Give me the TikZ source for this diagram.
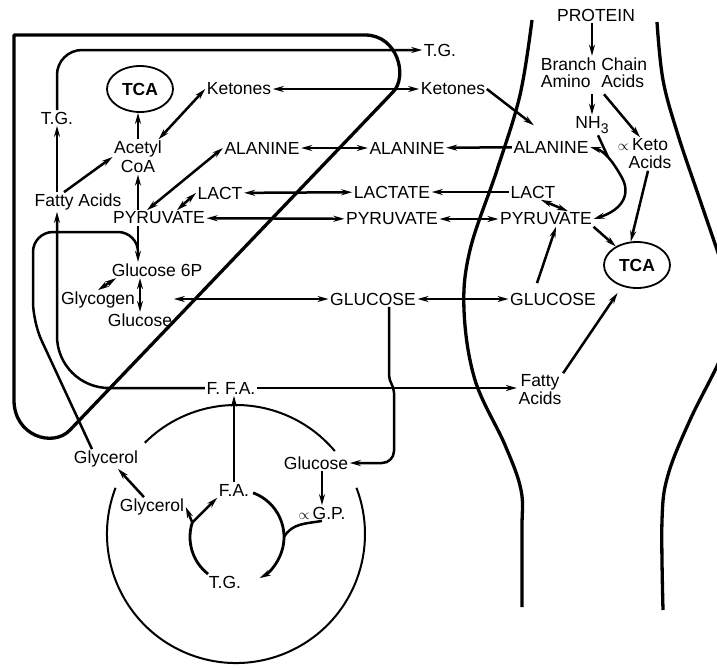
\documentclass[tikz,border=0pt]{standalone}
\usepackage{fontspec}
\setmainfont{Liberation Sans}
\usetikzlibrary{arrows.meta,shapes.geometric,calc}

\begin{document}
\begin{tikzpicture}[
    x=1pt, y=-1pt,
    % Style definitions
    metab/.style={font=\fontsize{17.5}{18}\selectfont, inner sep=1.5pt, align=center},
    tcabox/.style={ellipse, draw, line width=1.8pt, minimum width=66pt, minimum height=46pt, inner sep=0pt, font=\fontsize{17.5}{18}\selectfont\bfseries},
    organ/.style={line width=3.3pt, line join=round},
    flow/.style={-{Stealth[length=11pt,width=6pt]}, line width=2.5pt},
    dflow/.style={{Stealth[length=11pt,width=6pt]}-{Stealth[length=11pt,width=6pt]}, line width=2.5pt},
    link/.style={line width=2.5pt},
    fatcell/.style={line width=2pt}
]
\useasboundingbox (0,0) rectangle (717,667);
\clip (0,0) rectangle (717,667);

% Organ outlines
\draw[organ] (14,400) -- (14,35) -- (365,35) .. controls (398,35) and (408,77) .. (393,92)
    -- (70,430) .. controls (53,448) and (14,436) .. cycle;
\draw[organ] plot[smooth, tension=0.6] coordinates {(532,20) (520,95) (497,170) (470,250) (464,310) (475,380) (505,445) (521,490) (522,530) (522,607)};
\draw[organ] plot[smooth, tension=0.6] coordinates {(657,22) (663,80) (678,135) (700,200) (722,265) (735,310) (722,355) (690,420) (668,475) (662,520) (663,610)};

% Liver
\node[tcabox] (tcaL) at (140,89) {TCA};
\node[metab] (ketL) at (239,89) {Ketones};
\node[metab] (tgL) at (57,118) {T.G.};
\node[metab] (acoa) at (138,157) {Acetyl\\[1pt]CoA};
\node[metab] (faL) at (78,202) {Fatty Acids};
\node[metab] (alaL) at (262,148) {ALANINE};
\node[metab] (lactL) at (220,193) {LACT};
\node[metab] (pyrL) at (159,218) {PYRUVATE};
\node[metab] (g6p) at (157,270) {Glucose 6P};
\node[metab] (glyc) at (98,300) {Glycogen};
\node[metab] (gluL) at (140,320) {Glucose};
\node[metab] (tgR) at (440,50) {T.G.};

% Blood
\node[metab] (ketB) at (453,89) {Ketones};
\node[metab] (alaB) at (407,148) {ALANINE};
\node[metab] (lactB) at (392,192) {LACTATE};
\node[metab] (pyrB) at (392,219) {PYRUVATE};
\node[metab] (gluB) at (373,299) {GLUCOSE};
\node[metab] (ffa) at (231,388) {F. F.A.};

% Muscle
\node[metab] (prot) at (596,15) {PROTEIN};
\node[metab] (bcaa) at (594,75) {{\def\arraystretch{0.9}\begin{tabular}{@{}l@{\ }l@{}}Branch&Chain\\Amino&Acids\end{tabular}}};
\node[metab] (nh3) at (592,125) {NH\raisebox{-5pt}{\fontsize{14}{14}\selectfont 3}};
\node[metab] (keto) at (650,154) {\llap{{\fontsize{15}{15}\selectfont$\propto$}\,}Keto\\Acids};
\node[metab] (alaM) at (551,147) {ALANINE};
\node[metab] (lactM) at (533,192) {LACT};
\node[metab] (pyrM) at (546,219) {PYRUVATE};
\node[metab] (gluM) at (553,299) {GLUCOSE};
\node[tcabox] (tcaM) at (637,265) {TCA};
\node[metab] (faM) at (540,390) {Fatty\\Acids};

% Adipose tissue
\node[metab] (glyO) at (106,459) {Glycerol};
\node[metab] (gluA) at (316,463) {Glucose};
\node[metab] (faA) at (234,490) {F.A.};
\node[metab] (glyI) at (152,507) {Glycerol};
\node[metab] (agp) at (322,513) {{\fontsize{15}{15}\selectfont$\propto$}\,G.P.};
\node[metab] (tgA) at (225,582) {T.G.};
\coordinate (fat) at (236,534);
\coordinate (ring) at (237,537);
\coordinate (yj) at ([shift={(162:47pt)}]ring);
\coordinate (tj) at (608,157);

% Liver connections
\draw[flow] (acoa.north) -- (acoa.north |- tcaL.south);
\draw[dflow] ([xshift=-5]acoa.north east) -- (ketL.west);
\draw[flow] ([xshift=-14]faL.north) -- (acoa.west);
\draw[flow] (pyrL.north -| acoa) -- (acoa.south);
\draw[dflow] ([xshift=-12]pyrL.north) -- (alaL.west);
\draw[dflow] ([xshift=18]pyrL.north) -- (lactL.west);
\draw[flow] ([xshift=-21]pyrL.south) -- ([xshift=-21]pyrL.south |- g6p.north);
\draw[dflow] (glyc.north) -- ([xshift=6]g6p.south west);
\draw[dflow] (g6p.south -| gluL) -- (gluL.north);
\draw[flow] (faL.north -| tgL) -- (tgL.south);
\draw[flow, rounded corners=25pt] (tgL.north) |- (tgR.west);
\draw[flow, rounded corners=52pt] (ffa.west) -| (faL.south -| tgL);
\draw[link, rounded corners=20pt] ([xshift=-14]glyO.north) -- (33,322) -- (33,232) -- (138,232) -- (138,252);

% Exchange through the blood
\draw[dflow] (ketL) -- (ketB);
\draw[dflow] (alaL) -- (alaB);
\draw[dflow] (lactL) -- (lactB);
\draw[dflow] (pyrL) -- (pyrB);
\draw[dflow] (gluL.north east |- gluB) -- (gluB);
\draw[flow] (alaM) -- (alaB);
\draw[flow] (lactM) -- (lactB);
\draw[dflow] (pyrB) -- (pyrM);
\draw[dflow] (gluB) -- (gluM);
\draw[flow] (ffa.east) -- (faM.west |- ffa.east);
\draw[flow] ([xshift=16]gluB.south) -- ++(0,68) to[out=-90,in=90] ++(5,18) [rounded corners=12pt] |- (gluA.east);

% Muscle connections
\draw[flow] (ketB.east) -- ([xshift=22,yshift=14]alaM.north west);
\draw[flow] (prot.south -| nh3) -- (bcaa.north -| nh3);
\draw[flow] (bcaa.south -| nh3) -- (nh3.north);
\draw[flow] ([xshift=10]bcaa.south) -- ([xshift=-10]keto.north);
\draw[link] ([xshift=6]nh3.south) -- (tj);
\draw[dflow] (alaM.east) .. controls (604,151) and (612,160) .. (621,176) .. controls (632,194) and (622,210) .. (pyrM.east);
\draw[dflow] ([xshift=8]lactM.south) -- ([xshift=22]pyrM.north);
\draw[flow] ([xshift=-16,yshift=8]gluM.north) -- ([xshift=10]pyrM.south);
\draw[flow] (pyrM.south east) -- (tcaM);
\draw[flow] ([xshift=-2]keto.south) -- (tcaM.105);
\draw[flow, shorten >=8pt] (faM.north east) -- (tcaM.235);

% Adipose connections
\draw[fatcell] ([shift={(40:129pt)}]fat) arc[start angle=40, end angle=135, radius=129pt];
\draw[fatcell] ([shift={(159:129pt)}]fat) arc[start angle=159, end angle=381, radius=129pt];
\draw[flow, line width=2.8pt] ([shift={(70:47pt)}]ring) arc[start angle=70, end angle=-61, radius=47pt];
\draw[link, line width=2.8pt] ([shift={(232:47pt)}]ring) arc[start angle=232, end angle=162, radius=47pt];
\draw[flow] (yj) -- (faA.south west);
\draw[flow] (yj) -- (glyI.east);
\draw[flow] ([xshift=-8]glyI.north) -- ([xshift=12]glyO.south);
\draw[flow] (faA.north) -- (faA.north |- ffa.south);
\draw[flow] (agp.north |- gluA.south) -- (agp.north);
\draw[link] (agp.south) to[out=190,in=60] ([shift={(0:47pt)}]ring);

\end{tikzpicture}
\end{document}
